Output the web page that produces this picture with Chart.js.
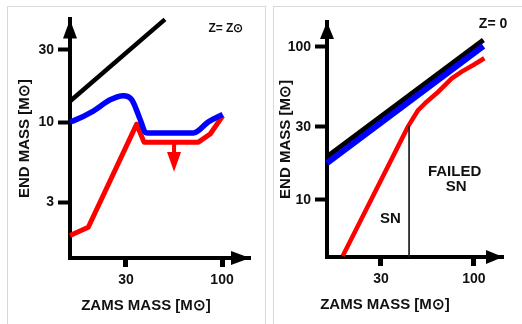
<!DOCTYPE html>
<html lang="en">
<head>
<meta charset="UTF-8">
<title>End mass vs ZAMS mass</title>
<script src="https://cdn.jsdelivr.net/npm/chart.js"></script>
<style>
  body { margin: 0; background: #fff; overflow: hidden; }
  .panel { position: absolute; top: 6px; height: 330px; border: 1px solid #d9d9d9; overflow: hidden; }
  #leftPanel { left: 7px; width: 257px; }
  #rightPanel { left: 273px; width: 260px; }
  canvas { display: block; }
</style>
</head>
<body>
<div class="panel" id="leftPanel"><canvas id="solarChart" width="257" height="317"></canvas></div>
<div class="panel" id="rightPanel"><canvas id="zeroChart" width="248" height="317"></canvas></div>
<script>
// Z = Z_sun panel (masses in solar masses)
const solarTotalZams = [14.87, 48.9];
const solarTotalEnd = [13.8, 47.6];
const solarPreSnZams = [14.87, 15.5, 19.9, 24.6, 29.0, 32.3, 35.8, 38.3, 39.5, 69.9, 84.3, 100.9];
const solarPreSnEnd = [10.1, 10.25, 11.9, 14.1, 15.0, 14.1, 10.5, 8.6, 8.53, 8.53, 10.1, 11.3];
const solarRemnantZams = [14.87, 18.7, 34.3, 37.6, 74.4, 86.2, 100.9];
const solarRemnantEnd = [1.81, 2.05, 9.75, 7.43, 7.43, 8.41, 11.05];
const solarDropZams = 54.8;
const solarDropEnd = [7.43, 6.39, 4.75]; // from line, arrow base, arrow tip
const solarXTicks = [30, 100];
const solarYTicks = [3, 10, 30];

// Z = 0 panel
const zeroTotalZams = [14.93, 113];
const zeroTotalEnd = [19.2, 111];
const zeroPreSnZams = [14.93, 113];
const zeroPreSnEnd = [17.4, 101.5];
const zeroRemnantZams = [18.3, 42.8, 48.6, 54.3, 63.1, 75.1, 85.4, 99.2, 114.4];
const zeroRemnantEnd = [4.3, 30.5, 38.7, 43.9, 51.0, 62.4, 69.0, 76.2, 84.4];
const zeroSplitZams = [43.2, 43.2];
const zeroSplitEnd = [30.5, 4.24];
const zeroXTicks = [30, 100];
const zeroYTicks = [10, 30, 100];

const FONT = "'Liberation Sans', Arial, sans-serif";

function pts(xs, ys) {
  return xs.map((x, i) => ({ x: x, y: ys[i] }));
}

function line(xs, ys, color, width, smooth) {
  return {
    data: pts(xs, ys),
    showLine: true,
    borderColor: color,
    borderWidth: width,
    pointRadius: 0,
    fill: false,
    clip: false,
    tension: 0,
    cubicInterpolationMode: smooth ? 'monotone' : 'default',
    borderJoinStyle: 'round'
  };
}

function axes(p) {
  const tickFont = { family: FONT, size: 14, weight: 'bold' };
  return {
    x: {
      type: 'logarithmic', min: p.xMin, max: p.xMax, bounds: 'data',
      afterBuildTicks: s => { s.ticks = p.xTicks.map(v => ({ value: v })); },
      afterFit: s => { s.height = p.xHeight; },
      ticks: { font: tickFont, color: '#111', padding: 5, maxRotation: 0, autoSkip: false, callback: v => String(v) },
      grid: { drawOnChartArea: false, drawTicks: true, tickLength: 9, tickWidth: 5, tickColor: '#000' },
      border: { display: true, color: '#000', width: 4 }
    },
    y: {
      type: 'logarithmic', min: p.yMin, max: p.yMax, bounds: 'data',
      afterBuildTicks: s => { s.ticks = p.yTicks.map(v => ({ value: v })); },
      afterFit: s => { s.width = p.yWidth; },
      ticks: { font: tickFont, color: '#111', padding: 4, autoSkip: false, callback: v => String(v) },
      grid: { drawOnChartArea: false, drawTicks: true, tickLength: 12, tickWidth: 4, tickColor: '#000' },
      border: { display: true, color: '#000', width: 4 },
      title: {
        display: true, text: 'END MASS [M⊙]', color: '#111',
        font: { family: FONT, size: 15, weight: 'bold' },
        padding: { top: p.yTitlePad, bottom: 0 }
      }
    }
  };
}

function overlay(p) {
  return {
    id: 'overlay',
    afterDraw(chart) {
      const { ctx, chartArea: a } = chart;
      const x = chart.scales.x, y = chart.scales.y;
      ctx.save();
      ctx.fillStyle = '#000';
      // axis arrowheads
      ctx.beginPath();
      ctx.moveTo(a.left, a.top);
      ctx.lineTo(a.left - 7, a.top + p.headLen);
      ctx.lineTo(a.left + 7, a.top + p.headLen);
      ctx.closePath();
      ctx.fill();
      ctx.beginPath();
      ctx.moveTo(a.right, a.bottom);
      ctx.lineTo(a.right - p.headLen, a.bottom - 7);
      ctx.lineTo(a.right - p.headLen, a.bottom + 7);
      ctx.closePath();
      ctx.fill();

      // downward arrow (upper limit)
      if (p.drop) {
        const px = x.getPixelForValue(p.drop.zams);
        const [y0, y1, y2] = p.drop.end.map(v => y.getPixelForValue(v));
        ctx.strokeStyle = 'red';
        ctx.fillStyle = 'red';
        ctx.lineWidth = 4;
        ctx.beginPath();
        ctx.moveTo(px, y0);
        ctx.lineTo(px, y1 + 1);
        ctx.stroke();
        ctx.beginPath();
        ctx.moveTo(px - 7, y1);
        ctx.lineTo(px + 7, y1);
        ctx.lineTo(px, y2);
        ctx.closePath();
        ctx.fill();
      }

      ctx.fillStyle = '#111';
      ctx.textAlign = 'center';
      ctx.textBaseline = 'middle';
      ctx.font = 'bold 15px ' + FONT;
      ctx.fillText('ZAMS MASS [M⊙]', p.xTitleX, p.xTitleY);
      p.notes.forEach(n => {
        ctx.font = 'bold ' + n.size + 'px ' + FONT;
        ctx.fillText(n.text, x.getPixelForValue(n.zams), y.getPixelForValue(n.end));
      });
      ctx.restore();
    }
  };
}

function build(id, datasets, p) {
  new Chart(document.getElementById(id), {
    type: 'scatter',
    data: { datasets: datasets },
    options: {
      responsive: false,
      animation: false,
      layout: { padding: p.padding },
      plugins: { legend: { display: false }, tooltip: { enabled: false } },
      scales: axes(p)
    },
    plugins: [overlay(p)]
  });
}

build('solarChart', [
  line(solarTotalZams, solarTotalEnd, '#000', 4.5, false),
  line(solarPreSnZams, solarPreSnEnd, '#0000ff', 5.5, true),
  line(solarRemnantZams, solarRemnantEnd, '#ff0000', 5, false)
], {
  xMin: 14.87, xMax: 142, yMin: 1.287, yMax: 47.6,
  xTicks: solarXTicks, yTicks: solarYTicks,
  xHeight: 66, yWidth: 62, yTitlePad: 8,
  padding: { left: 0, top: 8, right: 15, bottom: 0 },
  headLen: 19,
  xTitleX: 138, xTitleY: 299,
  drop: { zams: solarDropZams, end: solarDropEnd },
  notes: [{ text: 'Z= Z⊙', zams: 105, end: 41.6, size: 12 }]
});

build('zeroChart', [
  line(zeroSplitZams, zeroSplitEnd, '#222', 1, false),
  line(zeroRemnantZams, zeroRemnantEnd, '#ff0000', 4.5, false),
  line(zeroPreSnZams, zeroPreSnEnd, '#0000ff', 6, false),
  line(zeroTotalZams, zeroTotalEnd, '#000', 5, false)
], {
  xMin: 14.93, xMax: 145.6, yMin: 4.24, yMax: 145.6,
  xTicks: zeroXTicks, yTicks: zeroYTicks,
  xHeight: 67, yWidth: 53, yTitlePad: 3,
  padding: { left: 0, top: 15, right: 19, bottom: 0 },
  headLen: 17,
  xTitleX: 111, xTitleY: 298,
  notes: [
    { text: 'Z= 0', zams: 128, end: 141, size: 14 },
    { text: 'SN', zams: 33.9, end: 7.5, size: 15 },
    { text: 'FAILED', zams: 77.8, end: 15.3, size: 15 },
    { text: 'SN', zams: 79.3, end: 12.1, size: 15 }
  ]
});
</script>
</body>
</html>
